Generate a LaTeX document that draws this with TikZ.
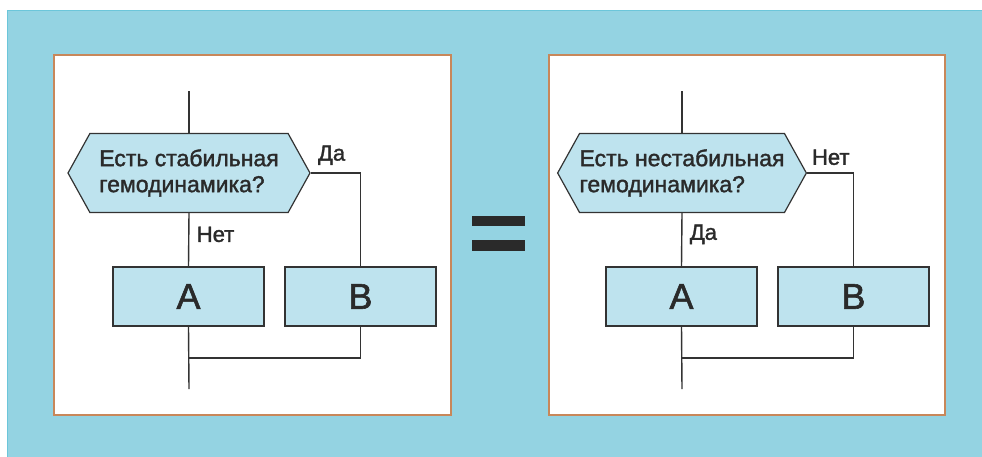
\documentclass[tikz,border=0pt]{standalone}
\usepackage{fontspec}
\setmainfont{Liberation Sans}
\newfontface\medfont{Liberation Sans}[FakeBold=1.6]
\usepackage{tikz}
\usetikzlibrary{shapes,positioning,calc}
\definecolor{bgblue}{HTML}{94D3E2}
\definecolor{bgedge}{HTML}{6CC6DA}
\definecolor{boxblue}{HTML}{BEE3EE}
\definecolor{framebrown}{HTML}{C8875A}
\definecolor{linegray}{HTML}{333333}
\definecolor{textgray}{HTML}{2A2A2A}

\begin{document}
\begin{tikzpicture}[x=1pt, y=-1pt,
  panel/.style={draw=framebrown, fill=white, line width=1.8pt},
  quest/.style={signal, signal to=west and east, signal pointer angle=122,
                draw=linegray, fill=boxblue, minimum width=242pt, minimum height=79pt,
                align=left, inner sep=0pt, line width=1.2pt, text=textgray,
                font=\medfont\fontsize{23}{26}\selectfont},
  actbox/.style={draw=linegray, fill=boxblue, minimum width=151pt, minimum height=59pt,
                 line width=1.3pt, text=textgray, font=\medfont\fontsize{36}{40}\selectfont},
  ln/.style={draw=linegray, line width=1.4pt},
  lbl/.style={text=textgray, font=\medfont\fontsize{22}{24}\selectfont},
  font=\small
]

\useasboundingbox (0,0) rectangle (982,456);
\filldraw[fill=bgblue, draw=bgedge, line width=1pt] (7,10) rectangle (983,457);
\filldraw[panel] (54,55)  rectangle (451,415);
\filldraw[panel] (549,55) rectangle (945,415);
\fill[textgray] (472,216) rectangle (525,226);
\fill[textgray] (472,240) rectangle (525,251);

\node[quest]  (qL) at (189,173)   {Есть стабильная\\гемодинамика?};
\node[actbox] (aL) at (188.5,296.5) {A};
\node[actbox] (bL) at (360.5,296.5) {B};
\coordinate (inL)   at (189,91);
\coordinate (joinL) at (189,358);
\coordinate (outL)  at (189,389);

\draw[ln] (inL)      -- (qL.north);
\draw[ln] (qL.east)  -| node[lbl, pos=0.21, above=4pt] {Да} (bL.north);
\draw[ln] (qL.south) -- node[lbl, pos=0.4, right=4pt] {Нет} (aL.north);
\draw[ln] (aL.south) -- (outL);
\draw[ln] (bL.south) |- (joinL);

\node[quest]  (qR) at (682,173)   {Есть нестабильная\\гемодинамика?};
\node[actbox] (aR) at (681.5,296.5) {A};
\node[actbox] (bR) at (853.5,296.5) {B};
\coordinate (inR)   at (682,91);
\coordinate (joinR) at (682,358);
\coordinate (outR)  at (682,389);

\draw[ln] (inR)      -- (qR.north);
\draw[ln] (qR.east)  -| node[lbl, pos=0.255, above=4pt] {Нет} (bR.north);
\draw[ln] (qR.south) -- node[lbl, pos=0.4, right=4pt] {Да} (aR.north);
\draw[ln] (aR.south) -- (outR);
\draw[ln] (bR.south) |- (joinR);

\end{tikzpicture}
\end{document}
